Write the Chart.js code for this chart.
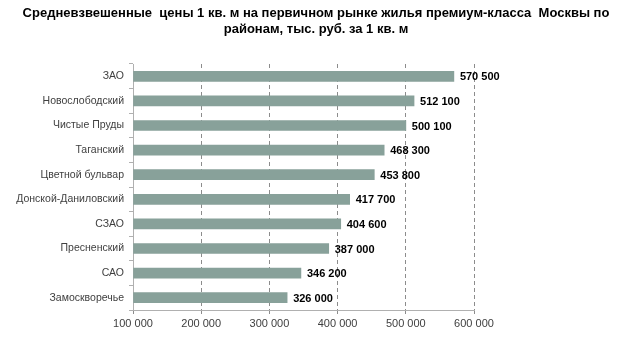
<!DOCTYPE html>
<html>
<head>
<meta charset="utf-8">
<script src="https://cdn.jsdelivr.net/npm/chart.js@4"></script>
<style>
    html, body { margin: 0; padding: 0; background: #fff; }
    #wrap { width: 619px; height: 339px; }
</style>
</head>
<body>
<div id="wrap"><canvas id="priceChart"></canvas></div>
<script>
const titleLines = [
    'Средневзвешенные  цены 1 кв. м на первичном рынке жилья премиум-класса  Москвы по',
    'районам, тыс. руб. за 1 кв. м'
];
const districts = [
    'ЗАО', 'Новослободский', 'Чистые Пруды', 'Таганский', 'Цветной бульвар',
    'Донской-Даниловский', 'СЗАО', 'Пресненский', 'САО', 'Замоскворечье'
];
const prices = [570500, 512100, 500100, 468300, 453800, 417700, 404600, 387000, 346200, 326000];
const axisMin = 100000;
const axisMax = 600000;
const axisStep = 100000;

const FONT = '"Liberation Sans", Arial, sans-serif';
const fmt = v => String(v).replace(/\B(?=(\d{3})+(?!\d))/g, ' ');

// two-line title drawn over the whole canvas width (the built-in one gets squeezed by the right padding)
const wideTitle = {
    id: 'wideTitle',
    afterDraw(chart) {
        const { ctx } = chart;
        ctx.save();
        ctx.font = 'bold 13px ' + FONT;
        ctx.fillStyle = '#000';
        ctx.textAlign = 'center';
        ctx.textBaseline = 'middle';
        titleLines.forEach((line, i) => ctx.fillText(line, 316, 13 + i * 16));
        ctx.restore();
    }
};

// value labels to the right of each bar
const barLabels = {
    id: 'barLabels',
    afterDatasetsDraw(chart) {
        const { ctx } = chart;
        const meta = chart.getDatasetMeta(0);
        ctx.save();
        ctx.font = 'bold 11px ' + FONT;
        ctx.fillStyle = '#000';
        ctx.textBaseline = 'middle';
        meta.data.forEach((bar, i) => {
            ctx.fillText(fmt(prices[i]), bar.x + 6, bar.y + 1);
        });
        ctx.restore();
    }
};

// eslint-disable-next-line no-undef
new Chart(document.getElementById('priceChart'), {
    type: 'bar',
    data: {
        labels: districts,
        datasets: [{
            data: prices,
            backgroundColor: '#88a19a',
            borderWidth: 0,
            barThickness: 10,
            base: axisMin
        }]
    },
    options: {
        indexAxis: 'y',
        responsive: true,
        maintainAspectRatio: false,
        animation: false,
        layout: { padding: { left: 0, right: 145, top: 64, bottom: 0 } },
        plugins: {
            legend: { display: false },
            tooltip: { enabled: false },
            title: { display: false }
        },
        scales: {
            x: {
                min: axisMin,
                max: axisMax,
                afterFit: s => { s.height = 29; },
                ticks: {
                    stepSize: axisStep,
                    color: '#404040',
                    padding: 3,
                    font: { family: FONT, size: 11 },
                    callback: v => fmt(v)
                },
                grid: { color: '#8c8c8c', lineWidth: 1, tickLength: 4 },
                border: { color: '#b0b0b0', dash: [4, 3] }
            },
            y: {
                afterFit: s => { s.width = 133; },
                ticks: {
                    color: '#404040',
                    padding: 5,
                    font: { family: FONT, size: 10.5 }
                },
                grid: { drawOnChartArea: false, offset: true, color: '#b0b0b0', tickLength: 4 },
                border: { color: '#b0b0b0' }
            }
        }
    },
    plugins: [barLabels, wideTitle]
});
</script>
</body>
</html>
